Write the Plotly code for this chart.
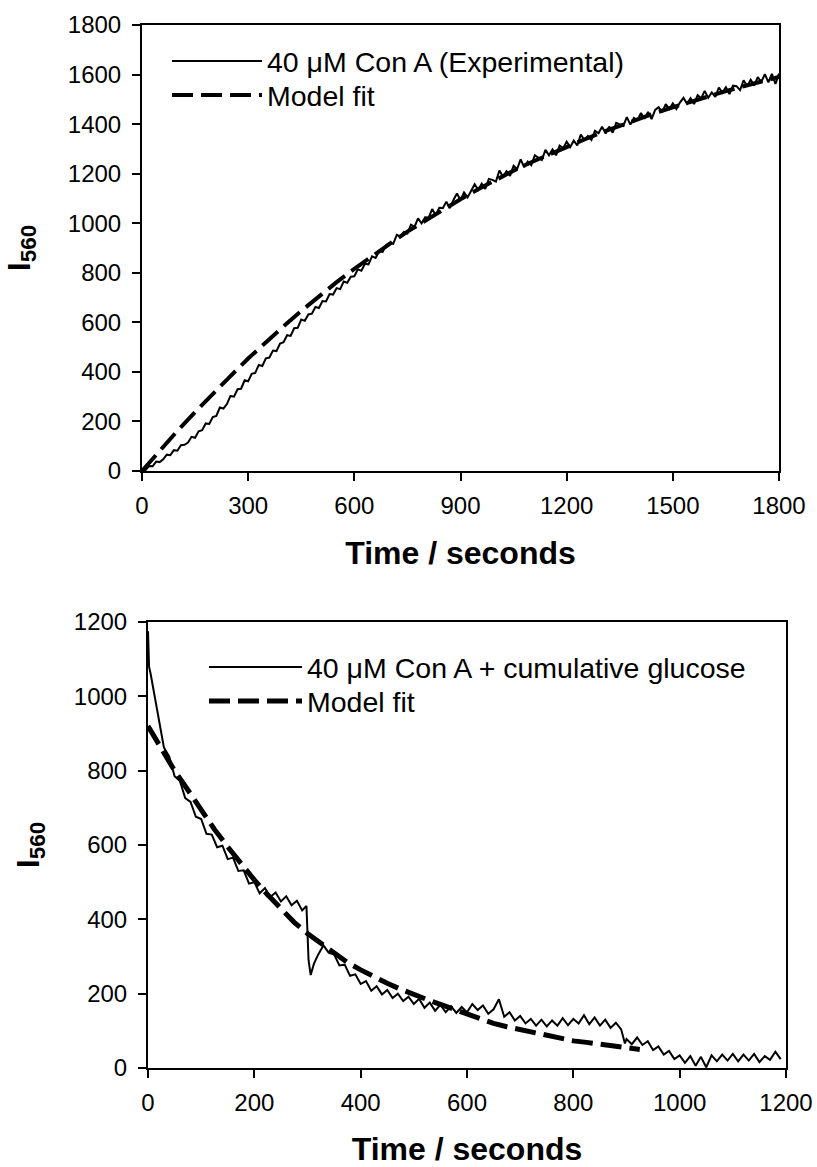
import plotly.graph_objects as go

# ---------------- top panel data ----------------
top_time = list(range(0, 1801, 10))
top_exp = [
    0, 4, 20, 19, 38, 36, 47, 66, 64, 84,
    82, 104, 106, 115, 138, 134, 160, 165, 192, 190,
    218, 222, 256, 252, 270, 303, 300, 330, 332, 366,
    362, 392, 396, 428, 424, 455, 458, 486, 484, 514,
    520, 548, 545, 576, 578, 611, 606, 632, 635, 662,
    658, 686, 684, 714, 712, 738, 734, 765, 760, 784,
    786, 814, 808, 836, 834, 866, 860, 886, 884, 912,
    921, 917, 953, 947, 965, 959, 994, 985, 1020, 999,
    1024, 1023, 1057, 1032, 1062, 1061, 1087, 1061, 1094, 1120,
    1094, 1124, 1104, 1131, 1157, 1135, 1160, 1138, 1179, 1175,
    1168, 1213, 1188, 1210, 1191, 1232, 1219, 1258, 1226, 1249,
    1234, 1274, 1265, 1255, 1296, 1274, 1298, 1274, 1313, 1303,
    1329, 1307, 1333, 1314, 1358, 1336, 1352, 1336, 1373, 1363,
    1389, 1362, 1390, 1365, 1405, 1400, 1393, 1428, 1398, 1425,
    1416, 1445, 1422, 1449, 1420, 1457, 1468, 1448, 1481, 1461,
    1484, 1461, 1487, 1506, 1482, 1505, 1481, 1517, 1504, 1534,
    1506, 1528, 1510, 1547, 1527, 1549, 1521, 1555, 1553, 1537,
    1577, 1553, 1579, 1556, 1590, 1570, 1602, 1569, 1603, 1562,
    1604,
]
top_fit_time = list(range(0, 1801, 50))
top_fit = [
    0, 82, 162, 238, 312, 383, 454, 520, 584, 646,
    705, 762, 816, 868, 917, 966, 1011, 1055, 1097, 1137,
    1175, 1212, 1246, 1278, 1309, 1338, 1367, 1394, 1420, 1445,
    1468, 1491, 1512, 1533, 1553, 1572, 1590,
]

# ---------------- bottom panel data ----------------
bot_time = [
    0, 2, 5, 10, 20, 30, 40, 50, 60, 70, 80, 90, 100, 110, 120, 130, 140, 150,
    160, 170, 180, 190, 200, 210, 220, 230, 240, 250, 260, 270, 280, 290, 298,
    302, 306, 312, 320, 330, 340, 350, 360, 370, 380, 390, 400, 410, 420, 430,
    440, 450, 460, 470, 480, 490, 500, 510, 520, 530, 540, 550, 560, 570, 580,
    590, 600, 610, 620, 630, 640, 650, 660, 670, 680, 690, 700, 710, 720, 730,
    740, 750, 760, 770, 780, 790, 800, 810, 820, 830, 840, 850, 860, 870, 880,
    890, 897, 900, 910, 920, 930, 940, 950, 960, 970, 980, 990, 1000, 1010,
    1020, 1030, 1040, 1050, 1060, 1070, 1080, 1090, 1100, 1110, 1120, 1130,
    1140, 1150, 1160, 1170, 1180, 1190,
]
bot_exp = [
    1175, 1080, 1060, 1018, 945, 862, 838, 785, 772, 726, 716, 676, 670, 630,
    628, 594, 598, 562, 566, 530, 532, 496, 500, 470, 484, 460, 472, 448, 462,
    438, 450, 424, 436, 290, 250, 280, 305, 330, 310, 306, 276, 278, 248, 252,
    226, 234, 208, 220, 198, 210, 188, 200, 180, 192, 172, 186, 162, 176, 154,
    170, 150, 166, 148, 164, 150, 172, 156, 168, 146, 158, 185, 138, 150, 128,
    140, 120, 132, 114, 130, 112, 128, 114, 134, 115, 132, 120, 142, 118, 136,
    114, 130, 108, 122, 104, 66, 78, 64, 82, 62, 72, 48, 58, 36, 46, 24, 34,
    14, 32, 6, 30, 2, 34, 18, 36, 20, 38, 18, 36, 20, 38, 16, 32, 22, 44, 24,
]
bot_fit_time = list(range(0, 926, 25))
bot_fit = [
    920, 858, 800, 748, 694, 642, 595, 550, 506, 466, 428, 392, 362, 336,
    306, 284, 264, 245, 228, 212, 197, 184, 171, 158, 146, 133, 120, 111,
    103, 95, 88, 80, 73, 69, 65, 60, 55, 50,
]

top_xticks = [0, 300, 600, 900, 1200, 1500, 1800]
top_yticks = list(range(0, 1801, 200))
bot_xticks = list(range(0, 1201, 200))
bot_yticks = list(range(0, 1201, 200))

FONT = "Liberation Sans, Arial, sans-serif"
W, H = 817, 1167

fig = go.Figure()
fig.add_trace(go.Scatter(x=top_time, y=top_exp, mode="lines",
                         name="40 \u03bcM Con A (Experimental)",
                         line=dict(color="black", width=2),
                         xaxis="x", yaxis="y", legend="legend"))
fig.add_trace(go.Scatter(x=top_fit_time, y=top_fit, mode="lines",
                         name="Model fit",
                         line=dict(color="black", width=4, dash="21px,8px"),
                         xaxis="x", yaxis="y", legend="legend3"))
fig.add_trace(go.Scatter(x=bot_time, y=bot_exp, mode="lines",
                         name="40 \u03bcM Con A + cumulative glucose",
                         line=dict(color="black", width=2),
                         xaxis="x2", yaxis="y2", legend="legend2"))
fig.add_trace(go.Scatter(x=bot_fit_time, y=bot_fit, mode="lines",
                         name="Model fit",
                         line=dict(color="black", width=5, dash="21px,8px"),
                         xaxis="x2", yaxis="y2", legend="legend4"))

title_font = dict(family=FONT, size=32, color="black")
axis_common = dict(
    showgrid=False, zeroline=False, showline=True, linecolor="black",
    linewidth=2, mirror=True, ticks="outside", ticklen=8, tickwidth=2,
    tickcolor="black", tickfont=dict(family=FONT, size=24, color="black"),
    automargin=False,
)
xt = dict(text="<b>Time / seconds</b>", font=title_font, standoff=24)
yt_top = dict(text="<b>I<sub>560</sub></b>", font=title_font, standoff=28)
yt_bot = dict(text="<b>I<sub>560</sub></b>", font=title_font, standoff=25)

leg_common = dict(xanchor="left", yanchor="top", bgcolor="rgba(0,0,0,0)",
                  borderwidth=0, font=dict(family=FONT, size=28.5, color="black"))

fig.update_layout(
    width=W, height=H,
    margin=dict(l=0, r=0, t=0, b=0, autoexpand=False),
    paper_bgcolor="white", plot_bgcolor="white",
    font=dict(family=FONT, color="black"),
    xaxis=dict(domain=[142 / W, 779 / W], range=[0, 1800], tickvals=top_xticks,
               anchor="y", ticklabelstandoff=4, title=xt, **axis_common),
    yaxis=dict(domain=[1 - 471 / H, 1 - 25 / H], range=[0, 1800], tickvals=top_yticks,
               anchor="x", ticklabelstandoff=6, title=yt_top, **axis_common),
    xaxis2=dict(domain=[148 / W, 786 / W], range=[0, 1200], tickvals=bot_xticks,
                anchor="y2", ticklabelstandoff=4, title=xt, **axis_common),
    yaxis2=dict(domain=[1 - 1068 / H, 1 - 622 / H], range=[0, 1200], tickvals=bot_yticks,
                anchor="x2", ticklabelstandoff=6, title=yt_bot, **axis_common),
    legend=dict(x=167 / W, y=1 - 36 / H, itemwidth=90, **leg_common),
    legend3=dict(x=167 / W, y=1 - 70 / H, itemwidth=90, **leg_common),
    legend2=dict(x=204 / W, y=1 - 642 / H, itemwidth=93, **leg_common),
    legend4=dict(x=204 / W, y=1 - 676 / H, itemwidth=93, **leg_common),
    showlegend=True,
)

fig.write_html("out.html")
